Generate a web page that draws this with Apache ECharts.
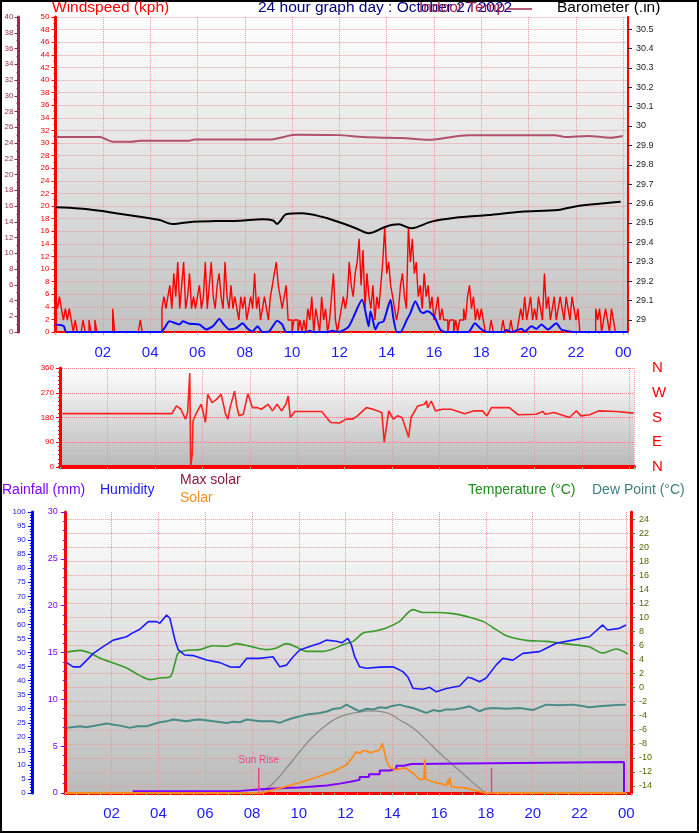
<!DOCTYPE html>
<html><head><meta charset="utf-8">
<script src="https://cdn.jsdelivr.net/npm/echarts@6/dist/echarts.min.js"></script>
<style>html,body{margin:0;padding:0;background:#fff}#c{width:699px;height:833px}</style>
</head><body><div id="c"></div><script>
// ---------- DATA ----------
// x values are hours of the day (0..24)
// wind gust (kph), 5-minute samples from 00:00
var gust5min = [
 9.3,5.6,3.7,5.6,3.7,1.9,3.7,1.9,3.7,1.9,0,1.9,
 0,0,0,1.9,0,0,1.9,0,0,1.9,0,0,
 0,0,0,0,0,0,3.7,0,0,0,0,0,
 0,0,0,0,0,0,0,0,1.9,0,0,0,
 0,0,0,0,0,0,0,3.7,5.6,3.7,5.6,7.4,
 3.7,9.3,5.6,11.1,3.7,7.4,11.1,3.7,5.6,9.3,3.7,5.6,
 3.7,5.6,7.4,3.7,5.6,11.1,3.7,7.4,11.1,5.6,3.7,7.4,
 9.3,5.6,3.7,11.1,5.6,3.7,7.4,3.7,5.6,3.7,1.9,5.6,
 3.7,5.6,1.9,3.7,5.6,3.7,9.3,3.7,5.6,1.9,3.7,5.6,
 3.7,1.9,5.6,7.4,9.3,11.1,7.4,5.6,3.7,5.6,7.4,1.9,
 1.9,0,1.9,1.9,0,1.9,0,1.9,0,3.7,1.9,5.6,
 0,3.7,1.9,0,5.6,1.9,3.7,0,1.9,5.6,9.3,1.9,
 0,1.9,3.7,5.6,3.7,5.6,11.1,7.4,5.6,9.3,11.1,14.8,
 7.4,13.0,3.7,9.3,5.6,3.7,7.4,1.9,5.6,3.7,7.4,11.1,
 16.7,9.3,11.1,7.4,5.6,3.7,1.9,3.7,7.4,9.3,5.6,3.7,
 16.7,11.1,14.8,9.3,11.1,5.6,7.4,3.7,9.3,5.6,7.4,3.7,
 5.6,1.9,3.7,5.6,1.9,3.7,1.9,1.9,0,1.9,1.9,0,
 1.9,0,1.9,1.9,3.7,1.9,5.6,7.4,3.7,5.6,1.9,3.7,
 1.9,3.7,1.9,0,0,0,1.9,0,0,0,0,0,
 1.9,0,0,0,1.9,0,0,0,1.9,3.7,1.9,5.6,
 1.9,3.7,5.6,1.9,3.7,1.9,5.6,3.7,1.9,9.3,3.7,5.6,
 1.9,3.7,5.6,1.9,3.7,5.6,3.7,1.9,5.6,3.7,1.9,5.6,
 3.7,1.9,3.7,0,0,0,0,0,0,0,0,3.7,
 1.9,3.7,0,1.9,3.7,1.9,0,3.7,1.9,0,0,0,
 0];
// average wind speed (kph) [hour, value]
var windAvg = [[0.0,1.2],[0.2,1.1],[0.36,0.9],[0.45,0],[4.45,0],[4.82,1.7],[5.24,1.2],[5.38,1.7],[5.66,1.3],[6.08,1.2],[6.37,0.4],[6.65,0.9],[6.93,2.1],[7.07,1.4],[7.35,0.4],[7.63,0.6],[7.91,1.4],[8.1,0.6],[8.33,0.1],[8.54,0.9],[8.75,0],[9.03,0.1],[9.37,1.8],[9.58,1.2],[9.75,0],[10.6,0],[10.75,0.2],[10.9,0],[11.5,0],[11.7,0.2],[11.98,0],[12.4,0.9],[12.96,5.1],[13.24,0.9],[13.31,3.3],[13.38,2.5],[13.52,0.4],[13.66,1.4],[13.87,1.7],[14.16,5.1],[14.29,2.0],[14.43,0],[14.58,0],[14.86,2.0],[15.0,3.0],[15.21,4.9],[15.42,3.3],[15.56,3.0],[15.7,3.3],[15.84,3.1],[16.05,2.2],[16.26,0.4],[16.47,0],[17.45,0],[17.73,1.4],[17.95,0.6],[18.16,0.1],[18.43,0],[18.93,0],[19.06,0.3],[19.28,0],[19.7,0.5],[19.83,0.1],[20.12,0.9],[20.33,0.5],[20.54,1.2],[20.82,0.4],[21.17,1.4],[21.38,0.4],[21.73,0.1],[21.94,0],[24.2,0]];
// barometer (inHg)
var barometer = [[0.02,29.581],[1.0,29.575],[1.87,29.563],[2.7,29.548],[3.56,29.532],[4.4,29.515],[4.95,29.495],[5.79,29.507],[6.8,29.51],[7.8,29.512],[8.74,29.519],[9.2,29.513],[9.37,29.495],[9.5,29.51],[9.75,29.545],[10.42,29.55],[11.26,29.532],[11.85,29.51],[12.69,29.473],[13.24,29.447],[13.96,29.481],[14.5,29.493],[15.05,29.473],[15.89,29.507],[16.9,29.527],[18.29,29.541],[19.68,29.558],[21.24,29.567],[22.08,29.588],[23.22,29.602],[23.89,29.61]];
// indoor temperature (°C)
var indoorTemp = [[0.02,24.76],[1.87,24.76],[2.42,24.17],[3.22,24.17],[3.56,24.3],[5.66,24.3],[5.87,24.43],[7.5,24.45],[9.03,24.43],[10.17,25.05],[11.98,25.0],[12.82,24.8],[13.6,24.7],[14.63,24.64],[15.77,24.42],[17.45,25.0],[21.1,25.0],[21.54,24.76],[22.5,24.89],[23.47,24.67],[23.98,24.89]];
// wind direction (degrees)
var windDir = [[0.1,194],[4.72,194],[4.91,222],[5.1,210],[5.19,192],[5.29,174],[5.38,198],[5.47,342],[5.51,0],[5.57,42],[5.61,168],[5.76,198],[5.95,228],[6.04,198],[6.13,162],[6.23,264],[6.41,234],[6.6,246],[6.79,264],[6.89,228],[6.98,192],[7.08,174],[7.17,216],[7.36,276],[7.45,222],[7.55,186],[7.73,192],[7.92,266],[8.11,216],[8.3,216],[8.49,210],[8.77,228],[8.96,204],[9.15,228],[9.34,204],[9.52,228],[9.62,258],[9.71,180],[9.9,202],[11.03,202],[11.41,162],[11.78,160],[12.07,174],[12.35,174],[12.54,186],[12.92,216],[13.2,210],[13.39,204],[13.57,198],[13.67,90],[13.86,204],[14.05,174],[14.23,186],[14.42,180],[14.7,108],[14.8,180],[15.08,222],[15.36,228],[15.45,240],[15.5,215],[15.65,240],[15.83,204],[16.12,210],[16.49,210],[17.06,194],[17.43,204],[17.81,204],[18.0,186],[18.19,216],[18.94,216],[19.32,190],[20.07,192],[20.36,202],[20.45,192],[20.83,198],[21.48,180],[21.77,204],[21.96,186],[22.33,190],[22.71,204],[23.46,202],[24.18,196]];
var compassLabels = {0:'N',90:'E',180:'S',270:'W',360:'N'};
// rainfall (mm)
var rainfall = [[2.9,0.2],[7.4,0.4],[8.4,0.5],[9.2,0.6],[10.0,0.7],[10.6,0.8],[11.2,1.0],[11.75,1.2],[12.2,1.4],[12.6,1.7],[13.0,2.0],[13.46,2.4],[13.9,2.6],[14.17,2.9],[14.5,3.1],[14.81,3.3],[23.9,3.3],[23.9,0]];
// humidity (%)
var humidity = [[0.08,46.4],[0.36,44.9],[0.65,44.9],[0.94,47.3],[1.22,49.7],[1.64,52.1],[2.07,54.4],[2.64,55.6],[2.86,56.8],[3.21,58.3],[3.57,61.0],[3.92,61.0],[4.06,60.4],[4.35,63.3],[4.49,62.2],[4.71,54.4],[4.85,50.9],[5.13,49.1],[5.49,48.9],[6.06,47.3],[6.63,46.4],[7.05,44.9],[7.48,44.8],[7.77,47.9],[8.33,47.9],[8.9,48.5],[9.19,44.9],[9.47,45.5],[9.76,48.5],[10.04,50.9],[10.47,52.1],[10.9,53.3],[11.18,54.4],[11.61,54.0],[11.85,53.5],[12.1,55.0],[12.25,52.7],[12.39,48.5],[12.6,44.9],[12.89,44.4],[13.46,44.8],[14.03,44.9],[14.45,43.2],[14.67,41.2],[14.88,37.3],[15.31,36.9],[15.59,37.6],[15.88,36.0],[16.31,37.2],[16.87,38.1],[17.23,41.2],[17.37,40.9],[17.73,39.6],[18.01,40.9],[18.44,45.6],[18.72,47.9],[19.15,47.3],[19.58,49.7],[20.29,50.3],[20.58,51.5],[21.0,53.3],[21.71,54.4],[22.43,55.6],[22.99,59.8],[23.2,58.0],[23.7,58.6],[23.99,59.8]];
// temperature (°C)
var temperature = [[0.08,5.02],[0.65,5.3],[1.08,4.93],[1.5,4.22],[2.07,3.51],[2.64,2.8],[3.21,1.71],[3.64,1.14],[4.06,1.38],[4.49,1.52],[4.71,3.51],[4.85,4.93],[5.2,5.3],[5.77,5.41],[6.34,5.97],[6.91,5.88],[7.34,6.26],[7.91,5.88],[8.62,5.41],[9.05,5.64],[9.47,6.26],[9.9,5.78],[10.33,5.16],[11.04,5.16],[11.46,5.5],[11.89,6.1],[12.32,6.59],[12.75,7.78],[13.17,8.01],[13.74,8.49],[14.31,9.43],[14.88,11.1],[15.31,10.7],[15.88,10.7],[16.59,10.53],[17.16,10.14],[17.87,9.43],[18.44,8.25],[18.94,7.3],[19.72,6.73],[20.58,6.59],[21.71,6.12],[22.43,5.78],[22.99,4.93],[23.56,5.5],[24.06,4.79]];
// dew point (°C)
var dewPoint = [[0.08,-5.73],[0.4,-5.6],[0.65,-5.5],[0.9,-5.65],[1.22,-5.45],[1.5,-5.3],[1.79,-5.12],[2.1,-5.3],[2.36,-5.41],[2.78,-5.73],[3.1,-5.5],[3.5,-5.5],[4.06,-4.93],[4.35,-4.8],[4.63,-4.55],[5.2,-4.79],[5.5,-4.6],[5.77,-4.55],[6.34,-4.79],[6.6,-4.9],[6.91,-5.02],[7.2,-4.85],[7.48,-4.93],[7.77,-4.55],[8.33,-4.79],[8.9,-4.79],[9.19,-5.02],[9.5,-4.6],[9.76,-4.32],[10.33,-3.84],[10.9,-3.6],[11.2,-3.4],[11.46,-3.04],[11.8,-2.9],[12.04,-2.42],[12.3,-2.9],[12.6,-3.37],[12.9,-3.0],[13.17,-3.13],[13.45,-2.8],[13.74,-2.89],[14.0,-2.6],[14.31,-2.42],[14.6,-2.7],[14.88,-2.89],[15.2,-3.3],[15.45,-3.6],[15.75,-3.2],[16.02,-3.37],[16.3,-3.1],[16.59,-3.13],[17.0,-2.9],[17.3,-2.66],[17.73,-3.37],[18.0,-3.0],[18.3,-2.89],[18.87,-3.0],[19.44,-2.89],[20.0,-3.2],[20.58,-2.42],[21.1,-2.5],[21.71,-2.42],[22.1,-2.6],[22.4,-2.8],[22.85,-2.66],[23.4,-2.5],[23.99,-2.42]];
// maximum solar (W/m²)
var maxSolar = [[8.41,5],[8.9,34],[9.47,88],[10.04,147],[10.61,201],[11.18,242],[11.75,271],[12.46,286],[13.17,292],[13.74,286],[14.31,260],[14.88,231],[15.45,189],[16.02,142],[16.59,100],[17.16,58],[17.73,17],[18.01,1]];
// solar (W/m²)
var solar = [[0,0],[8.4,0],[9.33,20],[10.04,37],[10.76,56],[11.46,76],[12.04,100],[12.32,129],[12.46,147],[12.6,141],[12.75,150],[12.89,150],[13.03,144],[13.17,145],[13.3,150],[13.46,153],[13.57,177],[13.64,183],[13.68,141],[13.74,117],[13.89,91],[14.17,82],[14.4,88],[14.6,88],[14.88,70],[15.17,49],[15.35,49],[15.39,120],[15.43,48],[15.74,40],[16.31,28],[16.38,47],[16.42,30],[16.45,56],[16.52,22],[16.59,22],[17.16,17],[17.73,5],[18.0,0],[24.0,0]];
// sunrise / sunset
var sunEventHours = [8.29, 18.24];
var sunEventLabels = ['Sun Rise', ''];
var sunMarkerTop = 89;
// axis label values
var baroLabels = [29,29.1,29.2,29.3,29.4,29.5,29.6,29.7,29.8,29.9,30,30.1,30.2,30.3,30.4,30.5];
var tempLabels = [-14,-12,-10,-8,-6,-4,-2,0,2,4,6,8,10,12,14,16,18,20,22,24];

// ---------- CHART ----------
var FONT = 'Liberation Sans';
var chart = echarts.init(document.getElementById('c'), null, {renderer:'canvas'});
function hourFmt(v){ if (v === 0) return ''; var h = Math.round(v) % 24; return (h < 10 ? '0' : '') + h; }
function bg(bottomColor){ return {type:'linear',x:0,y:0,x2:0,y2:1,colorStops:[{offset:0,color:'#ffffff'},{offset:1,color:bottomColor}]}; }
var dotted = {type:'dotted', color:'#eb9a9a', width:1};
function xAxis(grid, showLabels, lineW){
  return {type:'value', gridIndex:grid, min:0, max:24.2, interval:2,
    axisLine:{show:true, onZero:false, lineStyle:{color:'#ff0000', width:lineW}},
    axisTick:{show:true, length:3, lineStyle:{color:'#b0b0b0'}},
    minorTick:{show:showLabels, splitNumber:4, length:2, lineStyle:{color:'#b0b0b0'}},
    axisLabel:{show:showLabels, formatter:hourFmt, color:'#1a1aff', fontSize:15, fontFamily:FONT, margin:13, showMinLabel:false},
    splitLine:{show:true, lineStyle:dotted}};
}
var gustData = gust5min.map(function(v,i){ return [i/12, v]; });
var sunSeries = sunEventHours.map(function(h, i){
  return {type:'line', xAxisIndex:2, yAxisIndex:8, symbol:'circle', symbolSize:1, showSymbol:true, silent:true, z:7,
    itemStyle:{color:'#e8468c'},
    lineStyle:{color:'#e8468c', width:1.5},
    data:[{value:[h,-3]},{value:[h,sunMarkerTop], label:{show: !!sunEventLabels[i], formatter:sunEventLabels[i], position:'top', distance:2, color:'#e8468c', fontSize:10, fontFamily:FONT}}]};
});
var txt = function(t, x, y, color, size){ return {type:'text', x:x, y:y, style:{text:t, fill:color, font: size + 'px "' + FONT + '"'}}; };

chart.setOption({
  animation:false,
  backgroundColor:'#ffffff',
  grid:[
    {left:55.5, right:71, top:17, height:315, show:true, backgroundColor:bg('#c2c2c2'), borderWidth:0},
    {left:60, right:65, top:368, height:99, show:true, backgroundColor:bg('#b8b8b8'), borderWidth:0},
    {left:64.8, right:68, top:512, height:281, show:true, backgroundColor:bg('#bbbbbb'), borderWidth:0}
  ],
  xAxis:[ xAxis(0, true, 2), xAxis(1, false, 4), xAxis(2, true, 3) ],
  yAxis:[
    {type:'value', gridIndex:0, position:'left', min:0, max:50, interval:2,
      axisLine:{show:true, lineStyle:{color:'#ff0000', width:3}},
      axisTick:{show:true, length:4, lineStyle:{color:'#ff0000'}},
      minorTick:{show:true, splitNumber:2, length:2, lineStyle:{color:'#ff0000'}},
      axisLabel:{color:'#ff0000', fontSize:8, fontFamily:FONT, margin:6},
      splitLine:{show:true, lineStyle:dotted}},
    {type:'value', gridIndex:0, position:'left', offset:37, min:0, max:40, interval:2,
      axisLine:{show:true, lineStyle:{color:'#9c2a50', width:3}},
      axisTick:{show:true, length:4, lineStyle:{color:'#9c2a50'}},
      minorTick:{show:true, splitNumber:2, length:2, lineStyle:{color:'#9c2a50'}},
      axisLabel:{color:'#9c2a50', fontSize:8, fontFamily:FONT, margin:5},
      splitLine:{show:false}},
    {type:'value', gridIndex:0, position:'right', min:28.938, max:30.562,
      axisLine:{show:true, lineStyle:{color:'#ff0000', width:2}},
      axisTick:{show:true, length:4, customValues:baroLabels, lineStyle:{color:'#222'}},
      axisLabel:{customValues:baroLabels, color:'#222', fontSize:9, fontFamily:FONT, margin:8},
      splitLine:{show:false}},
    {type:'value', gridIndex:1, position:'left', min:0, max:360, interval:90,
      axisLine:{show:true, lineStyle:{color:'#ff0000', width:3}},
      axisTick:{show:true, length:4, lineStyle:{color:'#ff0000'}},
      minorTick:{show:true, splitNumber:6, length:2, lineStyle:{color:'#ff0000'}},
      axisLabel:{color:'#ff0000', fontSize:8, fontFamily:FONT, margin:6},
      splitLine:{show:true, lineStyle:{type:'dotted', color:'#f08080', width:1}}},
    {type:'value', gridIndex:1, position:'right', min:0, max:360, interval:90,
      axisLine:{show:false}, axisTick:{show:false},
      axisLabel:{color:'#ff0000', fontSize:15, fontFamily:FONT, margin:18, formatter:function(v){ return compassLabels[v]; }},
      splitLine:{show:false}},
    {type:'value', gridIndex:2, position:'left', min:0, max:30, interval:5,
      axisLine:{show:true, lineStyle:{color:'#ff0000', width:3}},
      axisTick:{show:true, length:4, lineStyle:{color:'#8000ff'}},
      minorTick:{show:true, splitNumber:5, length:2, lineStyle:{color:'#8000ff'}},
      axisLabel:{color:'#8000ff', fontSize:9, fontFamily:FONT, margin:7},
      splitLine:{show:false}},
    {type:'value', gridIndex:2, position:'left', offset:33, min:0, max:100, interval:5,
      axisLine:{show:true, lineStyle:{color:'#0000ff', width:3}},
      axisTick:{show:true, length:4, lineStyle:{color:'#0000ff'}},
      minorTick:{show:true, splitNumber:5, length:2, lineStyle:{color:'#0000ff'}},
      axisLabel:{color:'#1a1acc', fontSize:8, fontFamily:FONT, margin:6},
      splitLine:{show:false}},
    {type:'value', gridIndex:2, position:'right', min:-15, max:25,
      axisLine:{show:true, lineStyle:{color:'#ff0000', width:3}},
      axisTick:{show:true, length:4, customValues:tempLabels, lineStyle:{color:'#2e8b22'}},
      axisLabel:{customValues:tempLabels, color:'#4d6b00', fontSize:9, fontFamily:FONT, margin:8},
      splitLine:{show:true, lineStyle:dotted}},
    {type:'value', gridIndex:2, min:0, max:1000, show:false}
  ],
  graphic:[
    {type:'rect', shape:{x:1, y:1, width:697, height:831}, style:{fill:null, stroke:'#000', lineWidth:2}, silent:true},
    txt('Windspeed (kph)', 52, 0, '#ff0000', 15.5),
    txt('24 hour graph day : October 27 2022', 258, 0, '#000080', 15.5),
    txt('Indoor Temp', 419, 0, '#a0204e', 15.5),
    {type:'line', shape:{x1:507, y1:9, x2:532, y2:9}, style:{stroke:'#a0204e', lineWidth:1.5}},
    txt('Barometer (.in)', 557, 0, '#000000', 15.5),
    txt('Max solar', 180, 473, '#8b1a40', 14),
    txt('Solar', 180, 491, '#ff8c1a', 14),
    txt('Rainfall (mm)', 2, 483, '#8000ff', 14),
    txt('Humidity', 100, 483, '#1a1aff', 14),
    txt('Temperature (°C)', 468, 483, '#1e8c1e', 14),
    txt('Dew Point (°C)', 592, 483, '#408080', 14)
  ],
  series:[
    {name:'Gust', type:'line', xAxisIndex:0, yAxisIndex:0, data:gustData, step:'start', symbol:'none', lineStyle:{color:'#ff0000', width:1.4}, z:2},
    {name:'Wind', type:'line', xAxisIndex:0, yAxisIndex:0, data:windAvg, symbol:'none', smooth:0.2, lineStyle:{color:'#0a0aff', width:2}, z:3},
    {name:'Barometer', type:'line', xAxisIndex:0, yAxisIndex:2, data:barometer, symbol:'none', smooth:0.3, lineStyle:{color:'#000000', width:2}, z:3},
    {name:'Indoor Temp', type:'line', xAxisIndex:0, yAxisIndex:1, data:indoorTemp, symbol:'none', smooth:0.3, lineStyle:{color:'#b0506e', width:2}, z:3},
    {name:'Direction', type:'line', xAxisIndex:1, yAxisIndex:3, data:windDir, symbol:'none', lineStyle:{color:'#ff2020', width:1.6}, z:3},
    {name:'Max solar', type:'line', xAxisIndex:2, yAxisIndex:8, data:maxSolar, symbol:'none', smooth:true, lineStyle:{color:'#8c8c8c', width:1.3}, z:3},
    {name:'Rainfall', type:'line', xAxisIndex:2, yAxisIndex:5, data:rainfall, step:'end', symbol:'none', lineStyle:{color:'#8000ff', width:2}, z:4},
    {name:'Solar', type:'line', xAxisIndex:2, yAxisIndex:8, data:solar, symbol:'none', lineStyle:{color:'#ff8c1a', width:1.8}, z:5},
    {name:'Dew Point', type:'line', xAxisIndex:2, yAxisIndex:7, data:dewPoint, symbol:'none', lineStyle:{color:'#4a8a88', width:2}, z:5},
    {name:'Temperature', type:'line', xAxisIndex:2, yAxisIndex:7, data:temperature, symbol:'none', smooth:0.3, lineStyle:{color:'#3a9a2a', width:1.6}, z:5},
    {name:'Humidity', type:'line', xAxisIndex:2, yAxisIndex:6, data:humidity, symbol:'none', lineStyle:{color:'#1a1aff', width:1.6}, z:6}
  ].concat(sunSeries)
});
</script></body></html>
